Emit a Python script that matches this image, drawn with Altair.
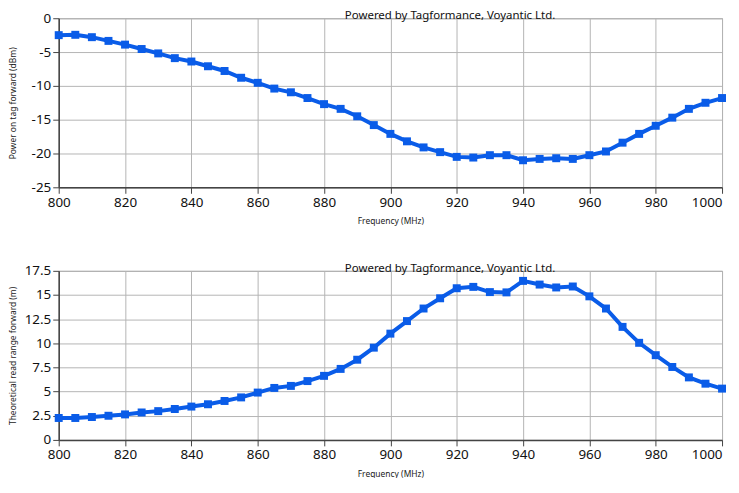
import altair as alt
import pandas as pd

freq = [800, 805, 810, 815, 820, 825, 830, 835, 840, 845, 850, 855, 860, 865, 870,
        875, 880, 885, 890, 895, 900, 905, 910, 915, 920, 925, 930, 935, 940, 945,
        950, 955, 960, 965, 970, 975, 980, 985, 990, 995, 1000]

power_dbm = [-2.5, -2.45, -2.8, -3.35, -3.9, -4.55, -5.2, -5.9, -6.4, -7.1, -7.8,
             -8.8, -9.55, -10.4, -10.95, -11.8, -12.7, -13.4, -14.5, -15.8, -17.1,
             -18.2, -19.1, -19.8, -20.5, -20.6, -20.25, -20.25, -21.0, -20.8, -20.7,
             -20.8, -20.25, -19.7, -18.4, -17.1, -15.9, -14.7, -13.4, -12.5, -11.8]

read_range_m = [2.27, 2.27, 2.37, 2.5, 2.64, 2.84, 2.98, 3.2, 3.45, 3.69, 4.03,
                4.4, 4.9, 5.38, 5.59, 6.09, 6.63, 7.35, 8.3, 9.55, 11.0, 12.3,
                13.6, 14.66, 15.7, 15.84, 15.3, 15.27, 16.46, 16.08, 15.78, 15.88,
                14.86, 13.6, 11.7, 10.05, 8.77, 7.55, 6.47, 5.82, 5.31]

df = pd.DataFrame({"freq": freq, "power": power_dbm, "range": read_range_m})

BLUE = "#0a5ce8"
FONT = "Noto Sans"
W, H = 667, 170

credit = "Powered by Tagformance, Voyantic Ltd."


def xaxis():
    return alt.X("freq:Q", scale=alt.Scale(domain=[800, 1000], nice=False, zero=False),
                 axis=alt.Axis(values=list(range(800, 1001, 20)), title="Frequency (MHz)",
                               format="d",
                               labelAlign=alt.condition("datum.value >= 1000",
                                                        alt.value("right"),
                                                        alt.value("center"))))


def panel(field, domain, step, ytitle):
    vals = []
    v = domain[0]
    while v <= domain[1] + 1e-9:
        vals.append(round(v, 2))
        v += step
    y = alt.Y(f"{field}:Q", scale=alt.Scale(domain=domain, nice=False, zero=False),
              axis=alt.Axis(values=vals, title=ytitle, labelExpr="datum.value + ''",
                            titleX=-41))
    base = alt.Chart(df).encode(x=xaxis(), y=y)
    line = base.mark_line(color=BLUE, strokeWidth=4)
    pts = base.mark_square(color=BLUE, size=64, opacity=1)
    return alt.layer(line, pts).properties(
        width=W, height=H,
        title=alt.TitleParams(credit, anchor="middle", dx=60, dy=19.5, fontSize=11.5, font=FONT,
                              fontWeight="normal", color="#111", baseline="alphabetic",
                              offset=0),
    )


top = panel("power", [-25, 0], 5, "Power on tag forward (dBm)")
bottom = panel("range", [0, 17.5], 2.5, "Theoretical read range forward (m)")

chart = alt.vconcat(top, bottom, spacing=36).properties(
    padding={"left": 0, "top": 0, "right": 0, "bottom": -2}
).configure_view(
    stroke="#9a9a9a", strokeWidth=1
).configure_axis(
    grid=True, gridColor="#b4b4b4", gridWidth=1, gridOpacity=1,
    domainColor="#444", domainWidth=1.5,
    tickColor="#444", tickSize=6, tickWidth=1,
    labelFont=FONT, labelFontSize=13.5, labelColor="#111", labelPadding=2,
    titleFont=FONT, titleFontSize=8.5, titleFontWeight="normal", titleColor="#222",
).configure_axisX(
    titlePadding=8, labelFlush=False
).configure_axisY(
    titlePadding=6
)

chart.save("out.html", embed_options={"renderer": "svg", "actions": False})
